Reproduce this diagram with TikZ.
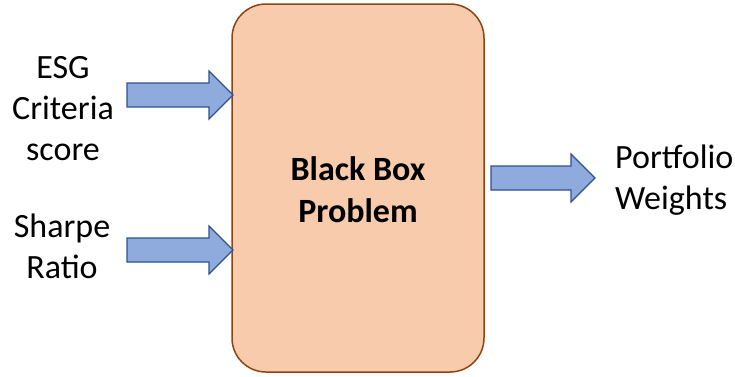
\documentclass[tikz,border=0pt]{standalone}
\usepackage{fontspec}
\setmainfont{Carlito}
\definecolor{boxfill}{HTML}{F8CBAD}
\definecolor{boxline}{HTML}{8B4513}
\definecolor{arrfill}{HTML}{8FAADC}
\definecolor{arrline}{HTML}{2F528F}
\begin{document}
\begin{tikzpicture}[x=1pt,y=-1pt,
  blockarrow/.style={fill=arrfill,draw=arrline,line width=1.2pt,line join=miter},
  lbl/.style={font=\fontsize{34}{41}\selectfont,align=center,inner sep=0pt}]
\useasboundingbox (0,0) rectangle (735,376);
\draw[fill=boxfill,draw=boxline,line width=1.5pt,rounded corners=34pt] (232,4) rectangle (484,372);
\node[font=\bfseries\fontsize{34}{42}\selectfont,align=center,inner sep=0pt] (bb) at (358,190) {Black Box\\Problem};
% arrows
\newcommand\rarrow[5]{%
  \draw[blockarrow] (#1,#4-12) -- (#2,#4-12) -- (#2,#4-24) -- (#3,#4) -- (#2,#4+24) -- (#2,#4+12) -- (#1,#4+12) -- cycle;
  \coordinate (#5) at (#3,#4);}
\rarrow{127}{209}{233}{95}{a1}
\rarrow{127}{209}{233}{250}{a2}
\rarrow{491}{571}{595}{178}{a3}
\node[lbl] (esg) at (63,109) {ESG\\Criteria\\score};
\node[lbl] (sr) at (62,246) {Sharpe\\Ratio};
\node[lbl,align=left,anchor=west] (pw) at (615,180) {Portfolio\\Weights};
\end{tikzpicture}
\end{document}
